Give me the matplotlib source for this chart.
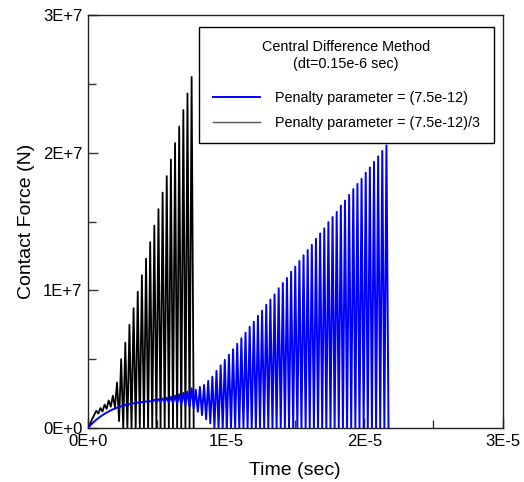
import matplotlib
matplotlib.use("Agg")
import matplotlib.pyplot as plt
from matplotlib.ticker import MultipleLocator
import numpy as np

plt.rcParams['font.family'] = ['Liberation Sans', 'DejaVu Sans']

# time step of the plotted samples (s)
dt = 0.15e-6

# Contact force (in 1e6 N) at successive samples t = k*dt
blue_force = [
    0.00, 0.17, 0.33, 0.47, 0.60, 0.72, 0.83, 0.93, 1.03, 1.12,
    1.20, 1.28, 1.35, 1.41, 1.47, 1.52, 1.57, 1.62, 1.66, 1.70,
    1.73, 1.76, 1.79, 1.81, 1.84, 1.86, 1.88, 1.90, 1.92, 1.93,
    1.95, 1.90, 2.05, 1.90, 2.10, 1.90, 2.15, 1.88, 2.20, 1.85,
    2.28, 1.82, 2.35, 1.78, 2.45, 1.72, 2.55, 1.65, 2.65, 1.55,
    2.88, 1.43, 2.78, 1.18, 2.98, 0.94, 3.12, 0.63, 3.42, 0.34,
    3.73, 0.00, 4.15, 0.00, 4.55, 0.00, 4.95, 0.00, 5.32, 0.00,
    5.72, 0.00, 6.12, 0.00, 6.52, 0.00, 6.92, 0.00, 7.35, 0.00,
    7.72, 0.00, 8.15, 0.00, 8.52, 0.00, 8.95, 0.00, 9.33, 0.00,
    9.70, 0.00, 10.15, 0.00, 10.53, 0.00, 10.90, 0.00, 11.35, 0.00,
    11.73, 0.00, 12.13, 0.00, 12.55, 0.00, 12.93, 0.00, 13.30, 0.00,
    13.75, 0.00, 14.13, 0.00, 14.50, 0.00, 14.95, 0.00, 15.33, 0.00,
    15.70, 0.00, 16.15, 0.00, 16.52, 0.00, 16.93, 0.00, 17.35, 0.00,
    17.73, 0.00, 18.10, 0.00, 18.55, 0.00, 18.93, 0.00, 19.33, 0.00,
    19.73, 0.00, 20.13, 0.00, 20.53, 0.00,
]

black_force = [
    0.00, 0.30, 0.65, 0.95, 1.25, 1.05, 1.45, 1.20, 1.70, 1.40,
    2.00, 1.55, 2.35, 1.50, 3.30, 0.50, 5.00, 0.00, 6.20, 0.00,
    7.50, 0.00, 8.70, 0.00, 9.90, 0.00, 11.10, 0.00, 12.30, 0.00,
    13.50, 0.00, 14.70, 0.00, 15.90, 0.00, 17.10, 0.00, 18.30, 0.00,
    19.50, 0.00, 20.70, 0.00, 21.90, 0.00, 23.10, 0.00, 24.30, 0.00,
    25.50, 0.00,
]

labels = ['Penalty parameter = (7.5e-12)', 'Penalty parameter = (7.5e-12)/3']
legend_title = 'Central Difference Method\n(dt=0.15e-6 sec)'
x_ticks = [0, 1e-5, 2e-5, 3e-5]
x_ticklabels = ['0E+0', '1E-5', '2E-5', '3E-5']
y_ticks = [0, 1e7, 2e7, 3e7]
y_ticklabels = ['0E+0', '1E+7', '2E+7', '3E+7']

fig = plt.figure(figsize=(5.24, 4.82), dpi=100)
ax = fig.add_axes([88/524, 1-428/482, (502.5-88)/524, (428-15)/482])

tb = np.arange(len(blue_force)) * dt
tk = np.arange(len(black_force)) * dt
fb = np.array(blue_force) * 1e6
fk = np.array(black_force) * 1e6

lk, = ax.plot(tk, fk, color='black', lw=1.3, zorder=2)
lb, = ax.plot(tb, fb, color='#0000ff', lw=1.4, zorder=3)

ax.set_xlim(0, 3e-5)
ax.set_ylim(0, 3e7)
ax.set_xticks(x_ticks)
ax.set_xticklabels(x_ticklabels)
ax.set_yticks(y_ticks)
ax.set_yticklabels(y_ticklabels)
ax.xaxis.set_minor_locator(MultipleLocator(0.5e-5))
ax.yaxis.set_minor_locator(MultipleLocator(0.5e7))
ax.tick_params(which='both', direction='in', labelsize=12, width=1, color='#333333')
ax.tick_params(which='major', length=7, pad=4)
ax.tick_params(which='minor', length=6)
for s in ax.spines.values():
    s.set_linewidth(1.0)
    s.set_color('#222222')

ax.set_xlabel('Time (sec)', fontsize=14, labelpad=10)
ax.set_ylabel('Contact Force (N)', fontsize=14, labelpad=6)

leg = ax.legend([lb, lk], labels, title=legend_title, loc='upper right',
                bbox_to_anchor=(493.5/524, 1-26.7/482), bbox_transform=fig.transFigure,
                fontsize=10.4, title_fontsize=10.4, frameon=True, fancybox=False,
                edgecolor='black', framealpha=1, handlelength=3.3, handletextpad=1.0,
                borderpad=0.95, labelspacing=0.75, borderaxespad=0)
leg._legend_box.sep = 14.5
leg.get_frame().set_linewidth(1.0)
leg.get_lines()[1].set_color('#555555')
leg.get_lines()[1].set_linewidth(1.0)
leg.get_title().set_multialignment('center')

fig.savefig('out.png', dpi=100)
